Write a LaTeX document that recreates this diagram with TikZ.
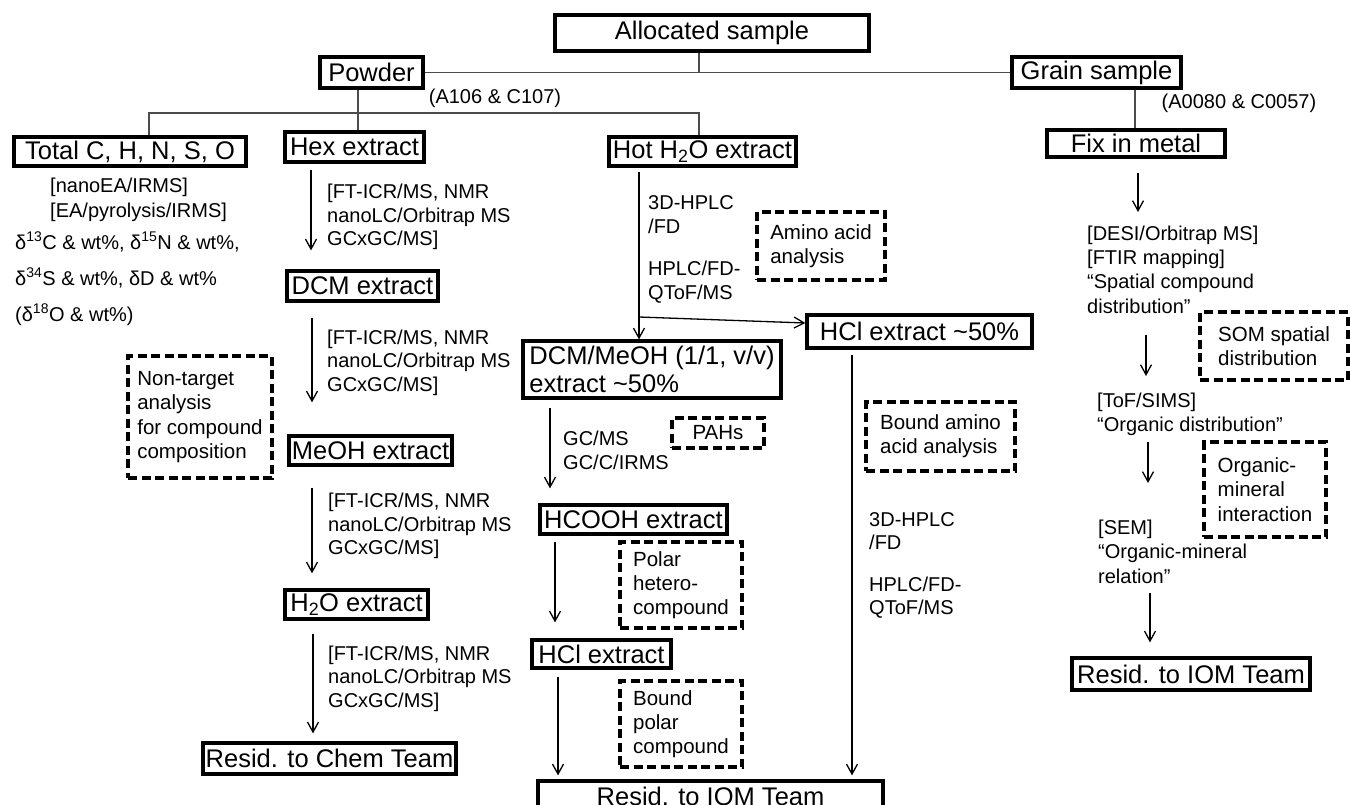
\documentclass[tikz,border=0pt]{standalone}
\usepackage{fontspec}
\setmainfont{Liberation Sans}
\usetikzlibrary{arrows.meta}
\tikzset{
  box/.style={draw, line width=3.2pt, inner sep=0pt, font=\fontsize{25.5}{28}\selectfont},
  dbox/.style={draw, line width=3.2pt, dash pattern=on 9pt off 4.5pt, inner sep=0pt, align=left, font=\fontsize{20.5}{24.3}\selectfont},
  lab/.style={inner sep=0pt, anchor=north west, align=left, font=\fontsize{20}{23.5}\selectfont},
  arr/.style={line width=1.3pt, -{Straight Barb[length=10pt,width=11pt]}},
  tree/.style={line width=1.2pt, draw=black!70},
}
\begin{document}
\begin{tikzpicture}[x=1pt,y=-1pt]
\useasboundingbox[fill=white] (0,0) rectangle (1350,805);

% ---------- solid boxes ----------
\node[box, minimum width=314pt, minimum height=36pt] (alloc) at (712,33) {Allocated sample};
\node[box, minimum width=103pt, minimum height=31pt] (powder) at (371.5,72.5) {Powder};
\node[box, minimum width=169pt, minimum height=31pt] (grain) at (1096.5,72.5) {Grain sample};
\node[box, minimum width=232pt, minimum height=29pt] (total) at (130,151.5) {Total C, H, N, S, O};
\node[box, minimum width=139pt, minimum height=30pt] (hex) at (354.5,147) {Hex extract};
\node[box, minimum width=187pt, minimum height=29pt] (hot) at (702.5,151.5) {Hot H\textsubscript{2}O extract};
\node[box, minimum width=178pt, minimum height=27pt] (fix) at (1136,143.5) {Fix in metal};
\node[box, minimum width=151pt, minimum height=30pt] (dcm) at (362.5,286) {DCM extract};
\node[box, minimum width=163pt, minimum height=29pt] (meoh) at (370.5,450.5) {MeOH extract};
\node[box, minimum width=143pt, minimum height=29pt] (h2o) at (356.5,604.5) {H\textsubscript{2}O extract};
\node[box, minimum width=253pt, minimum height=31pt] (chem) at (329.5,758.5) {Resid. to Chem Team};
\node[box, minimum width=258pt, minimum height=57pt, align=left] (dcmmeoh) at (652,369.5) {DCM/MeOH (1/1, v/v)\\extract \textasciitilde50\%};
\node[box, minimum width=225pt, minimum height=33pt] (hcl50) at (919.5,331.5) {HCl extract \textasciitilde50\%};
\node[box, minimum width=187pt, minimum height=29pt] (hcooh) at (633.5,519.5) {HCOOH extract};
\node[box, minimum width=139pt, minimum height=28pt] (hcl) at (601.5,654) {HCl extract};
\node[box, minimum width=345pt, minimum height=30pt] (iom1) at (710.5,796) {Resid. to IOM Team};
\node[box, minimum width=238pt, minimum height=32pt] (iom2) at (1191,674) {Resid. to IOM Team};

% ---------- dashed boxes ----------
\node[dbox, minimum width=144pt, minimum height=122pt] (nontarget) at (200,417) {Non-target\\analysis\\for compound\\composition};
\node[dbox, minimum width=128pt, minimum height=68pt] (amino) at (821,246) {Amino acid\\analysis};
\node[dbox, minimum width=92pt, minimum height=30pt] (pahs) at (718,433) {PAHs};
\node[dbox, minimum width=122pt, minimum height=86pt] (polar) at (681,585) {Polar\\hetero-\\compound};
\node[dbox, minimum width=122pt, minimum height=86pt] (bpolar) at (681,724) {Bound\\polar\\compound};
\node[dbox, minimum width=149pt, minimum height=69pt] (bamino) at (940.5,436.5) {Bound amino\\acid analysis};
\node[dbox, minimum width=148pt, minimum height=68pt] (som) at (1274,346) {SOM spatial\\distribution};
\node[dbox, minimum width=122pt, minimum height=95pt] (orgmin) at (1265,489.5) {Organic-\\mineral\\interaction};

% ---------- labels ----------
\node[lab, anchor=center] (a106) at (495,98) {(A106 \& C107)};
\node[lab, anchor=center] (a0080) at (1239,103) {(A0080 \& C0057)};
\node[lab, font=\fontsize{20}{25}\selectfont] (ea) at (50,177.5) {[nanoEA/IRMS]\\{}[EA/pyrolysis/IRMS]};
\node[lab] (iso) at (15,231.5) {δ\textsuperscript{13}C \& wt\%, δ\textsuperscript{15}N \& wt\%,\\[13pt]δ\textsuperscript{34}S \& wt\%, δD \& wt\%\\[12.5pt](δ\textsuperscript{18}O \& wt\%)};
\node[lab] (hexlab) at (327,184) {[FT-ICR/MS, NMR\\nanoLC/Orbitrap MS\\GCxGC/MS]};
\node[lab] (dcmlab) at (327,329.5) {[FT-ICR/MS, NMR\\nanoLC/Orbitrap MS\\GCxGC/MS]};
\node[lab] (meohlab) at (328,493) {[FT-ICR/MS, NMR\\nanoLC/Orbitrap MS\\GCxGC/MS]};
\node[lab] (h2olab) at (328,645.5) {[FT-ICR/MS, NMR\\nanoLC/Orbitrap MS\\GCxGC/MS]};
\node[lab] (hotlab) at (648,195.5) {3D-HPLC\\/FD\\[19pt]HPLC/FD-\\QToF/MS};
\node[lab] (hcl50lab) at (869,512) {3D-HPLC\\/FD\\[18pt]HPLC/FD-\\QToF/MS};
\node[lab, font=\fontsize{20}{24}\selectfont] (gcms) at (563,431) {GC/MS\\GC/C/IRMS};
\node[lab, font=\fontsize{20}{24.3}\selectfont] (desi) at (1087,225.5) {[DESI/Orbitrap MS]\\{}[FTIR mapping]\\“Spatial compound\\distribution”};
\node[lab, font=\fontsize{20}{24.3}\selectfont] (tof) at (1097,393) {[ToF/SIMS]\\“Organic distribution”};
\node[lab, font=\fontsize{20}{24.3}\selectfont] (sem) at (1098,520) {[SEM]\\“Organic-mineral\\relation”};

% ---------- tree lines ----------
\coordinate (ja) at (699,72.5);
\coordinate (jp) at (358,113);
\coordinate (jl) at (149,113);
\coordinate (jr) at (699,113);
\coordinate (jg) at (1135,0);
\draw[tree] (alloc.south -| ja) -- (ja);
\draw[tree] (powder.east) -- (grain.west);
\draw[tree] (powder.south -| jp) -- (hex.north -| jp);
\draw[tree] (total.north -| jl) -- (jl) -- (jr) -- (hot.north -| jr);
\draw[tree] (grain.south -| jg) -- (fix.north -| jg);

% ---------- arrow columns ----------
\coordinate (a311) at (311,0);
\coordinate (a312) at (312,0);
\coordinate (a313) at (313,0);
\coordinate (a639) at (639,0);
\coordinate (a550) at (550,0);
\coordinate (a555) at (555,0);
\coordinate (a558) at (558,0);
\coordinate (a852) at (852,0);
\coordinate (a1138) at (1138,0);
\coordinate (a1146) at (1146,0);
\coordinate (a1148) at (1148,0);
\coordinate (a1150) at (1150,0);
\coordinate (br) at (639,317);

\draw[arr, shorten <=6pt, shorten >=19pt] (hex.south -| a311) -- (dcm.north -| a311);
\draw[arr, shorten <=15pt, shorten >=32pt] (dcm.south -| a312) -- (meoh.north -| a312);
\draw[arr, shorten <=21pt, shorten >=15pt] (meoh.south -| a312) -- (h2o.north -| a312);
\draw[arr, shorten <=13pt, shorten >=8pt] (h2o.south -| a313) -- (chem.north -| a313);

\draw[arr, shorten <=4pt] (hot.south -| a639) -- (dcmmeoh.north -| a639);
\draw[arr] (br) -- ([yshift=8.5pt]hcl50.west);
\draw[arr, shorten <=5pt, shorten >=4pt] (hcl50.south -| a852) -- (iom1.north -| a852);

\draw[arr, shorten <=8pt, shorten >=15pt] (dcmmeoh.south -| a550) -- (hcooh.north -| a550);
\draw[arr, shorten <=6pt, shorten >=16pt] (hcooh.south -| a555) -- (hcl.north -| a555);
\draw[arr, shorten <=7pt, shorten >=4pt] (hcl.south -| a558) -- (iom1.north -| a558);

\draw[arr, shorten <=14pt, shorten >=13.5pt] (fix.south -| a1138) -- (desi.north -| a1138);
\draw[arr, shorten <=22pt, shorten >=17pt] (desi.south -| a1146) -- (tof.north -| a1146);
\draw[arr, shorten <=6pt, shorten >=37pt] (tof.south -| a1148) -- (sem.north -| a1148);
\draw[arr, shorten <=9pt, shorten >=14pt] (sem.south -| a1150) -- (iom2.north -| a1150);
\end{tikzpicture}
\end{document}
